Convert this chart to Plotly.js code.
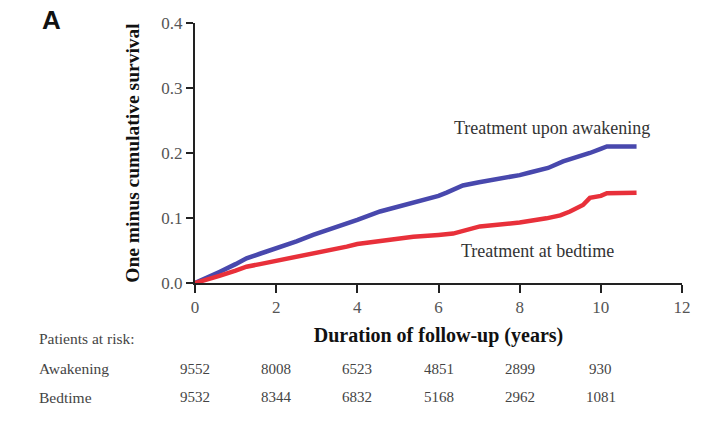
<!DOCTYPE html>
<html>
<head>
<meta charset="utf-8">
<script src="https://cdn.plot.ly/plotly-3.0.1.min.js"></script>
<style>html,body{margin:0;padding:0;background:#fff;}#chart{width:719px;height:431px;}</style>
</head>
<body>
<div id="chart"></div>
<script>
// Data
const awakeYears = [0, 0.3, 0.6, 1.0, 1.27, 1.6, 2.0, 2.5, 2.91, 3.5, 4.0, 4.56, 5.0, 5.5, 6.0, 6.2, 6.6, 7.0, 7.5, 7.84, 8.0, 8.25, 8.7, 9.07, 9.4, 9.73, 9.98, 10.15, 10.88];
const awakeValues = [0, 0.008, 0.017, 0.029, 0.038, 0.045, 0.053, 0.064, 0.074, 0.086, 0.097, 0.110, 0.117, 0.126, 0.134, 0.139, 0.150, 0.155, 0.160, 0.163, 0.166, 0.170, 0.177, 0.187, 0.193, 0.200, 0.206, 0.210, 0.210];
const bedYears = [0, 0.3, 0.6, 1.0, 1.27, 1.6, 2.1, 2.5, 3.0, 3.74, 4.0, 4.5, 5.38, 6.0, 6.36, 7.02, 7.5, 7.84, 8.0, 8.66, 9.0, 9.24, 9.56, 9.73, 10.0, 10.15, 10.88];
const bedValues = [0, 0.005, 0.011, 0.019, 0.025, 0.029, 0.035, 0.040, 0.046, 0.056, 0.060, 0.064, 0.071, 0.074, 0.076, 0.087, 0.090, 0.092, 0.093, 0.0995, 0.104, 0.110, 0.120, 0.131, 0.134, 0.138, 0.139];

const riskYears = [0, 2, 4, 6, 8, 10];
const riskAwakening = [9552, 8008, 6523, 4851, 2899, 930];
const riskBedtime = [9532, 8344, 6832, 5168, 2962, 1081];

const xTicks = [0, 2, 4, 6, 8, 10, 12];
const yTicks = [0, 0.1, 0.2, 0.3, 0.4];

const serif = "Liberation Serif, Times New Roman, serif";

const traces = [
  {x: awakeYears, y: awakeValues, type: 'scatter', mode: 'lines', name: 'Treatment upon awakening',
   line: {color: '#4848ad', width: 4.5}},
  {x: bedYears, y: bedValues, type: 'scatter', mode: 'lines', name: 'Treatment at bedtime',
   line: {color: '#e8303a', width: 4.5}}
];

const annotations = [
  {text: 'A', xref: 'paper', yref: 'paper', x: -0.318, y: 1.01, xanchor: 'left', yanchor: 'middle', showarrow: false,
   font: {family: 'Liberation Sans, Arial, sans-serif', size: 26, color: '#111', weight: 'bold'}},
  {text: 'Treatment upon awakening', x: 8.8, y: 0.239, xref: 'x', yref: 'y', showarrow: false,
   xanchor: 'center', yanchor: 'middle', font: {family: serif, size: 18, color: '#333'}},
  {text: 'Treatment at bedtime', x: 8.45, y: 0.049, xref: 'x', yref: 'y', showarrow: false,
   xanchor: 'center', yanchor: 'middle', font: {family: serif, size: 18, color: '#333'}},
  {text: 'Patients at risk:', xref: 'paper', yref: 'paper', x: -0.324, y: -0.215, xanchor: 'left', yanchor: 'middle',
   showarrow: false, font: {family: serif, size: 15.5, color: '#444'}},
  {text: 'Awakening', xref: 'paper', yref: 'paper', x: -0.324, y: -0.33, xanchor: 'left', yanchor: 'middle',
   showarrow: false, font: {family: serif, size: 15.5, color: '#444'}},
  {text: 'Bedtime', xref: 'paper', yref: 'paper', x: -0.324, y: -0.44, xanchor: 'left', yanchor: 'middle',
   showarrow: false, font: {family: serif, size: 15.5, color: '#444'}}
];
riskYears.forEach((yr, i) => {
  annotations.push({text: String(riskAwakening[i]), x: yr, xref: 'x', yref: 'paper', y: -0.33, xanchor: 'center', yanchor: 'middle',
    showarrow: false, font: {family: serif, size: 15, color: '#444'}});
  annotations.push({text: String(riskBedtime[i]), x: yr, xref: 'x', yref: 'paper', y: -0.44, xanchor: 'center', yanchor: 'middle',
    showarrow: false, font: {family: serif, size: 15, color: '#444'}});
});

const layout = {
  width: 719, height: 431,
  margin: {l: 195, r: 37, t: 23, b: 148},
  paper_bgcolor: '#fff', plot_bgcolor: '#fff',
  showlegend: false,
  xaxis: {
    range: [0, 12], tickvals: xTicks, ticktext: xTicks.map(String),
    showgrid: false, zeroline: false, showline: true, linecolor: '#222', linewidth: 2,
    ticks: 'outside', ticklen: 8, tickwidth: 2, tickcolor: '#222',
    tickfont: {family: serif, size: 17, color: '#555'},
    title: {text: 'Duration of follow-up (years)', standoff: 12,
            font: {family: serif, size: 20, color: '#111', weight: 'bold'}}
  },
  yaxis: {
    range: [0, 0.4], tickvals: yTicks, tickformat: '.1f',
    showgrid: false, zeroline: false, showline: true, linecolor: '#222', linewidth: 2,
    ticks: 'outside', ticklen: 7, tickwidth: 2, tickcolor: '#222',
    tickfont: {family: serif, size: 17, color: '#555'},
    title: {text: 'One minus cumulative survival', standoff: 17,
            font: {family: serif, size: 19.5, color: '#111', weight: 'bold'}}
  },
  annotations: annotations
};

Plotly.newPlot('chart', traces, layout, {displayModeBar: false, staticPlot: true});
</script>
</body>
</html>
